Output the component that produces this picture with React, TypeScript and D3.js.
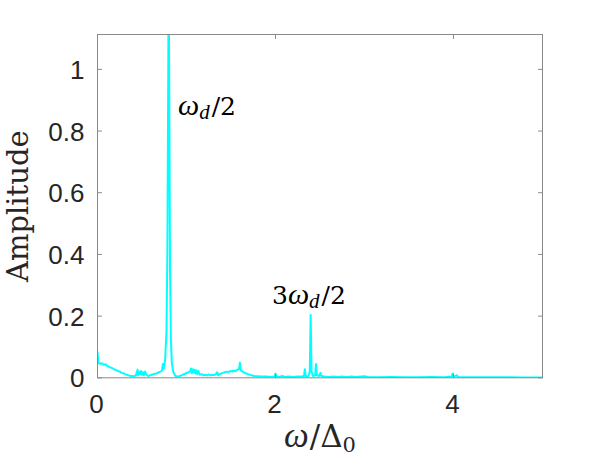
import React from "react";
import * as d3 from "d3";

// ω/Δ0 sample positions and the amplitude
const omega = [
  0.0, 0.01, 0.03, 0.05, 0.07, 0.09, 0.11, 0.13, 0.15, 0.17, 0.19, 0.21, 0.23, 0.25, 0.27, 0.29,
  0.31, 0.33, 0.35, 0.37, 0.39, 0.41, 0.43, 0.45, 0.455, 0.47, 0.48, 0.49, 0.5, 0.51, 0.52, 0.535,
  0.55, 0.57, 0.59, 0.61, 0.63, 0.65, 0.67, 0.69, 0.71, 0.725, 0.735, 0.745, 0.76, 0.775, 0.785,
  0.795, 0.8, 0.805, 0.815, 0.825, 0.835, 0.85, 0.87, 0.89,
  0.9, 0.93, 0.96, 0.99, 1.02, 1.04, 1.05, 1.06, 1.07, 1.08, 1.09, 1.1, 1.11, 1.12, 1.13, 1.15,
  1.17, 1.19, 1.21, 1.23, 1.25, 1.27, 1.29, 1.31, 1.33, 1.345, 1.355, 1.37, 1.39, 1.41, 1.43,
  1.45, 1.47, 1.49, 1.51, 1.53, 1.55, 1.57, 1.59, 1.6, 1.61, 1.63, 1.65, 1.67, 1.7, 1.73, 1.76,
  1.8, 1.85, 1.9, 1.95, 1.99, 2.0, 2.01, 2.04, 2.08, 2.1, 2.15, 2.2, 2.25, 2.3, 2.32, 2.33, 2.34,
  2.37, 2.385, 2.395, 2.405, 2.42, 2.445, 2.455, 2.465, 2.49, 2.505, 2.515, 2.55, 2.6, 2.65, 2.7,
  2.75, 2.8, 2.85, 2.9, 3.0, 3.05, 3.15, 3.3, 3.45, 3.6, 3.75, 3.9, 3.98, 3.99, 4.0, 4.04, 4.05,
  4.2, 4.4, 4.6, 4.8, 5.0,
];
const amplitude = [
  0.085, 0.048, 0.045, 0.047, 0.042, 0.044, 0.038, 0.036, 0.033, 0.031, 0.027, 0.025, 0.022, 0.02,
  0.016, 0.015, 0.012, 0.01, 0.008, 0.006, 0.006, 0.005, 0.007, 0.026, 0.008, 0.02, 0.012, 0.022,
  0.01, 0.018, 0.008, 0.02, 0.01, 0.006, 0.008, 0.01, 0.012, 0.013, 0.015, 0.018, 0.02, 0.024,
  0.045, 0.03, 0.06, 0.15, 0.4, 1.0, 1.35, 1.0, 0.35, 0.12, 0.05, 0.02, 0.008, 0.004,
  0.004, 0.006, 0.01, 0.014, 0.018, 0.02, 0.03, 0.015, 0.028, 0.018, 0.026, 0.014, 0.024, 0.012,
  0.022, 0.01, 0.012, 0.008, 0.01, 0.008, 0.011, 0.008, 0.01, 0.009, 0.012, 0.018, 0.008, 0.012,
  0.014, 0.016, 0.018, 0.02, 0.018, 0.022, 0.02, 0.024, 0.021, 0.026, 0.028, 0.049, 0.024, 0.02,
  0.017, 0.014, 0.011, 0.008, 0.006, 0.005, 0.004, 0.004, 0.003, 0.004, 0.013, 0.004, 0.003,
  0.006, 0.003, 0.004, 0.003, 0.004, 0.004, 0.006, 0.028, 0.005, 0.006, 0.02, 0.204, 0.02, 0.006,
  0.008, 0.045, 0.008, 0.006, 0.016, 0.006, 0.004, 0.003, 0.004, 0.003, 0.004, 0.002, 0.004,
  0.003, 0.005, 0.002, 0.002, 0.003, 0.002, 0.002, 0.003, 0.002, 0.004, 0.014, 0.004, 0.008,
  0.003, 0.002, 0.002, 0.002, 0.001, 0.001,
];

const xTicks = [0, 2, 4];
const xTickLabels = ["0", "2", "4"];
const yTicks = [0, 0.2, 0.4, 0.6, 0.8, 1];
const yTickLabels = ["0", "0.2", "0.4", "0.6", "0.8", "1"];
const xDomain = [0, 5];
const yDomain = [0, 1.113];

const W = 599;
const H = 461;
const M = { left: 97.5, right: 542.5, top: 34.5, bottom: 377.8 };

const SANS = "'Liberation Sans', Arial, Helvetica, sans-serif";
const SERIF = "'DejaVu Serif', 'Liberation Serif', serif";
const MATH = "'Liberation Serif', 'Times New Roman', serif";

export default function App() {
  const x = d3.scaleLinear().domain(xDomain).range([M.left, M.right]);
  const y = d3.scaleLinear().domain(yDomain).range([M.bottom, M.top]);
  const pts = omega.map((w, i) => [w, amplitude[i]] as [number, number]);
  const line = d3
    .line<[number, number]>()
    .x((d) => x(d[0]))
    .y((d) => y(d[1]));
  const tick = 4.5;
  const axisColor = "#8a8a8a";
  const textColor = "#262626";

  return (
    <svg
      width={W}
      height={H}
      style={{ position: "absolute", left: 0, top: 0, background: "#fff" }}
    >
      <defs>
        <clipPath id="plotclip">
          <rect x={M.left} y={M.top} width={M.right - M.left} height={M.bottom - M.top} />
        </clipPath>
      </defs>
      <rect width={W} height={H} fill="#fff" />
      <g clipPath="url(#plotclip)">
        <path d={line(pts) || ""} fill="none" stroke="#00ffff" strokeWidth={2} strokeLinejoin="round" />
      </g>
      {/* box */}
      <rect
        x={M.left}
        y={M.top}
        width={M.right - M.left}
        height={M.bottom - M.top}
        fill="none"
        stroke={axisColor}
        strokeWidth={1}
      />
      {xTicks.map((t) => (
        <g key={"xt" + t}>
          <line x1={x(t)} x2={x(t)} y1={M.bottom} y2={M.bottom - tick} stroke={axisColor} />
          <line x1={x(t)} x2={x(t)} y1={M.top} y2={M.top + tick} stroke={axisColor} />
        </g>
      ))}
      {yTicks.map((t) => (
        <g key={"yt" + t}>
          <line x1={M.left} x2={M.left + tick} y1={y(t)} y2={y(t)} stroke={axisColor} />
          <line x1={M.right} x2={M.right - tick} y1={y(t)} y2={y(t)} stroke={axisColor} />
        </g>
      ))}
      {xTicks.map((t, i) => (
        <text
          key={"xl" + t}
          x={x(t) - 1}
          y={M.bottom + 35}
          textAnchor="middle"
          fontFamily={SANS}
          fontSize={26}
          fill={textColor}
        >
          {xTickLabels[i]}
        </text>
      ))}
      {yTicks.map((t, i) => (
        <text
          key={"yl" + t}
          x={M.left - 13}
          y={y(t) + 9.5}
          textAnchor="end"
          fontFamily={SANS}
          fontSize={26}
          fill={textColor}
        >
          {yTickLabels[i]}
        </text>
      ))}
      {/* x label */}
      <text
        x={(M.left + M.right) / 2}
        y={447}
        textAnchor="middle"
        fontFamily={SERIF}
        fontSize={31}
        fill={textColor}
      >
        <tspan fontFamily={MATH} fontStyle="italic" fontSize={35}>ω</tspan>
        <tspan dx={1}>/Δ</tspan>
        <tspan fontSize={21} dy={5}>0</tspan>
      </text>
      {/* y label */}
      <text
        transform={`translate(28, ${(M.top + M.bottom) / 2}) rotate(-90)`}
        textAnchor="middle"
        fontFamily={SERIF}
        fontSize={29}
        fill={textColor}
      >
        Amplitude
      </text>
      {/* annotations */}
      <text x={178} y={115} fontFamily={SERIF} fontSize={25} fill="#000">
        <tspan fontFamily={MATH} fontStyle="italic" fontSize={30}>ω</tspan>
        <tspan fontFamily={MATH} fontStyle="italic" fontSize={21} dy={4}>d</tspan>
        <tspan dy={-4} dx={2}>/2</tspan>
      </text>
      <text x={272} y={304} fontFamily={SERIF} fontSize={25} fill="#000">
        <tspan>3</tspan>
        <tspan fontFamily={MATH} fontStyle="italic" fontSize={30}>ω</tspan>
        <tspan fontFamily={MATH} fontStyle="italic" fontSize={21} dy={4}>d</tspan>
        <tspan dy={-4} dx={2}>/2</tspan>
      </text>
    </svg>
  );
}
